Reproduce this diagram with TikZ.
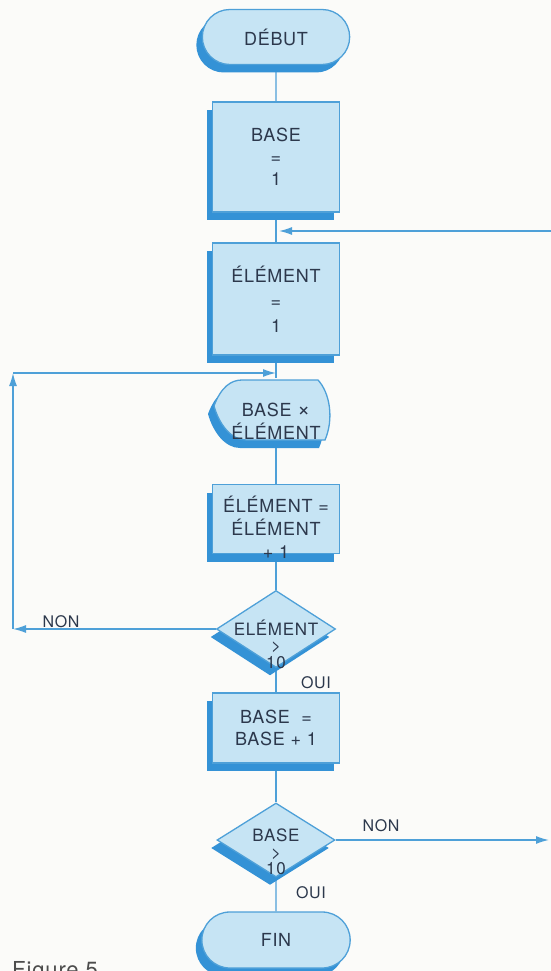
\documentclass[tikz,border=0pt]{standalone}
\usepackage{fontspec}
\setmainfont{TeX Gyre Heros}[LetterSpace=4]
\usetikzlibrary{shapes.geometric,shapes.misc,shadows,arrows.meta,backgrounds}
\definecolor{paper}{RGB}{251,251,249}
\definecolor{face}{RGB}{198,228,244}
\definecolor{lineblue}{RGB}{78,160,216}
\definecolor{shade}{RGB}{52,146,214}
\definecolor{ink}{RGB}{44,56,76}
\tikzstyle{box}=[draw=lineblue, line width=1.3pt, fill=face, text=ink, align=center, font=\fontsize{18}{22}\selectfont, drop shadow={shadow xshift=-6pt, shadow yshift=-8pt, fill=shade, opacity=1}]
\tikzstyle{term}=[box, rounded rectangle, minimum width=154pt, minimum height=55pt]
\tikzstyle{proc}=[box, rectangle, minimum width=127pt]
\tikzstyle{test}=[box, diamond, minimum width=119pt, minimum height=77pt, inner sep=0pt]
\tikzstyle{txt}=[text=ink, align=center, font=\fontsize{18}{23}\selectfont]
\tikzstyle{tight}=[txt, font=\fontsize{17}{16.5}\selectfont]
\tikzstyle{link}=[draw=lineblue, line width=1.4pt]

\begin{document}
\begin{tikzpicture}[x=1pt, y=-1pt, >={Latex[length=13pt,width=8pt]}]
\useasboundingbox (0,0) rectangle (551,971);

\draw (276,37) node[term] (start) {DÉBUT};
\draw (276,157) node[proc, minimum height=110pt] (b1) {BASE\\=\\1};
\draw (276,299) node[proc, minimum height=112pt] (e1) {ÉLÉMENT\\[3pt]=\\[3pt]1};

% display symbol
\begin{scope}[shift={(276,409)}]
\filldraw[box] (-62,-3) .. controls (-55,-22) and (-45,-29) .. (-34,-29) -- (42,-29)
  .. controls (54,-16) and (58,10) .. (49,31) -- (-30,31) .. controls (-45,31) and (-57,15) .. cycle;
\end{scope}
\draw (276,409) node[minimum width=116pt, minimum height=61pt, label={[txt, yshift=-12pt]center:{BASE {\fontsize{22}{22}\selectfont ×}\\ÉLÉMENT}}] (out) {};

\draw (276,519) node[proc, minimum height=69pt, label={[txt, yshift=-8pt]center:{ÉLÉMENT~=\\ÉLÉMENT\\+~1}}] (inc) {};
\draw (276,629) node[test, label={[tight, yshift=-15pt]center:{ELÉMENT\\>\\10}}] (d1) {};
\draw (276,728) node[proc, minimum height=70pt] (b2) {BASE~~=\\BASE~+~1};
\draw (276,840) node[test, minimum width=118pt, minimum height=74pt, label={[tight, yshift=-12pt]center:{BASE\\>\\10}}] (d2) {};
\draw (276,940) node[term, minimum width=155pt, minimum height=56pt] (fin) {FIN};

\draw (61,622) node[txt, font=\fontsize{16}{16}\selectfont] (non1) {NON};
\draw (316,683) node[txt, font=\fontsize{16}{16}\selectfont] (oui1) {OUI};
\draw (381,826) node[txt, font=\fontsize{16}{16}\selectfont] (non2) {NON};
\draw (311,893) node[txt, font=\fontsize{16}{16}\selectfont] (oui2) {OUI};
\draw (12,977) node[anchor=base west, inner sep=0pt, text=black!70, font=\fontsize{22}{22}\selectfont] (cap) {Figure 5};

\coordinate (j1) at (279,231);
\coordinate (r2) at (551,231);
\coordinate (j2) at (276,373);
\coordinate (c2) at (13,373);
\coordinate (c1) at (13,629);
\coordinate (r1) at (549,840);

\begin{scope}[on background layer]
\fill[paper] (0,0) rectangle (551,971);
\draw[link] (start) -- (b1);
\draw[link] (b1) -- (e1);
\draw[link] (e1) -- (out);
\draw[link] (out) -- (inc);
\draw[link] (inc) -- (d1);
\draw[link] (d1) -- (b2);
\draw[link] (b2) -- (d2);
\draw[link] (d2) -- (fin);
\draw[link, ->] (r2) -- (j1);
\draw[link, ->] (d1.west) -- (c1);
\draw[link, ->] (c1) -- (c2);
\draw[link, ->] (c2) -- (j2);
\draw[link, ->] (d2.east) -- (r1);
\end{scope}
\end{tikzpicture}
\end{document}
